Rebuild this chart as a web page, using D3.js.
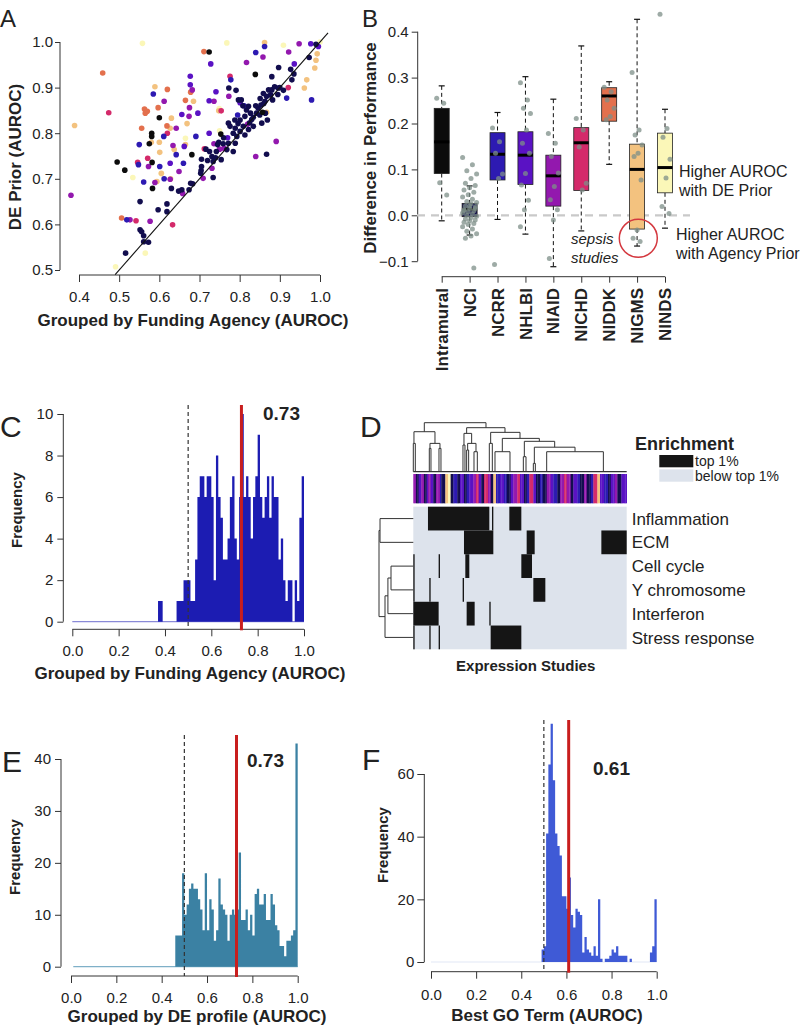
<!DOCTYPE html>
<html lang="en">
<head>
  <meta charset="UTF-8">
  <title>AUROC panels</title>
  <script src="https://d3js.org/d3.v7.min.js"></script>
  <style>
    body { margin: 0; background: #fff; }
  </style>
</head>
<body>
  <svg width="802" height="1029"></svg>
  <script>
    // ---------- data ----------
    const agencies = ["Intramural", "NCI", "NCRR", "NHLBI", "NIAID", "NICHD", "NIDDK", "NIGMS", "NINDS"];
    const agencyColors = ["#0c0c0c", "#120d4e", "#2d1ab2", "#5a12c4", "#9318ae", "#d42a6a", "#e3704d", "#f3c27f", "#fbf7b8"];

    // panel A: AUROC grouped by agency (x) vs DE prior (y)
    const aIntramural = [[0.724,0.978],[0.839,0.929],[0.6,0.834],[0.581,0.8],[0.581,0.793],[0.575,0.777],[0.582,0.736],[0.583,0.679],[0.495,0.737],[0.514,0.719],[0.681,0.753],[0.753,0.798],[0.857,0.846]];
    const aNCI = [[0.897,0.944],[0.927,0.94],[0.93,0.917],[0.973,0.966],[0.88,0.924],[0.773,0.899],[0.784,0.8],[0.789,0.811],[0.796,0.821],[0.801,0.829],[0.788,0.829],[0.809,0.815],[0.813,0.837],[0.817,0.851],[0.822,0.859],[0.827,0.844],[0.834,0.835],[0.842,0.844],[0.846,0.855],[0.851,0.876],[0.859,0.887],[0.867,0.881],[0.872,0.895],[0.877,0.884],[0.882,0.873],[0.887,0.902],[0.896,0.899],[0.909,0.894],[0.789,0.778],[0.784,0.76],[0.793,0.793],[0.801,0.804],[0.813,0.796],[0.825,0.823],[0.822,0.808],[0.834,0.815],[0.855,0.822],[0.869,0.829],[0.864,0.844],[0.853,0.862],[0.863,0.87],[0.776,0.815],[0.772,0.822],[0.797,0.873],[0.791,0.894],[0.804,0.873],[0.808,0.86],[0.867,0.754],[0.725,0.76],[0.731,0.749],[0.734,0.703],[0.74,0.746],[0.734,0.738],[0.742,0.76],[0.759,0.777],[0.772,0.778],[0.768,0.764],[0.754,0.742],[0.704,0.718],[0.703,0.712],[0.705,0.743],[0.63,0.679],[0.648,0.673],[0.656,0.676],[0.674,0.676],[0.683,0.689],[0.552,0.65],[0.552,0.588],[0.556,0.584],[0.561,0.575],[0.573,0.561],[0.561,0.562],[0.516,0.537],[0.597,0.632],[0.619,0.645],[0.619,0.628],[0.748,0.78],[0.76,0.79],[0.716,0.765],[0.72,0.74],[0.745,0.775],[0.705,0.727],[0.678,0.69],[0.84,0.86],[0.85,0.84],[0.83,0.83],[0.86,0.865],[0.88,0.895],[0.895,0.885],[0.9,0.9],[0.935,0.93],[0.99,0.995]];
    const aNCRR = [[0.862,0.99],[0.84,0.977],[0.778,0.917],[0.979,0.873],[0.917,0.877],[0.585,0.886],[0.548,0.731],[0.561,0.693],[0.601,0.727],[0.611,0.793],[0.642,0.753],[0.66,0.734],[0.612,0.7],[0.55,0.775],[0.519,0.61],[0.691,0.793],[0.811,0.86],[0.795,0.84]];
    const aNHLBI = [[0.728,0.952],[0.977,0.996],[0.996,0.99],[0.936,0.952],[0.677,0.925],[0.677,0.906],[0.656,0.841],[0.696,0.844],[0.724,0.871],[0.741,0.891],[0.627,0.734],[0.662,0.771],[0.724,0.8],[0.801,0.867],[0.77,0.79]];
    const aNIAID = [[0.922,0.978],[0.948,0.996],[0.817,0.955],[0.858,0.967],[0.682,0.895],[0.612,0.87],[0.675,0.856],[0.674,0.837],[0.736,0.87],[0.773,0.881],[0.642,0.811],[0.634,0.773],[0.649,0.716],[0.627,0.699],[0.589,0.692],[0.573,0.727],[0.658,0.668],[0.709,0.701],[0.731,0.723],[0.736,0.777],[0.761,0.767],[0.891,0.782],[0.84,0.749],[0.577,0.607],[0.527,0.61],[0.38,0.664],[0.75,0.765],[0.82,0.82]];
    const aNICHD = [[0.474,0.845],[0.754,0.849],[0.776,0.925],[0.921,0.9],[0.571,0.745],[0.546,0.736],[0.712,0.766],[0.633,0.599],[0.542,0.608],[0.62,0.8]];
    const aNIDDK = [[0.711,0.979],[0.459,0.932],[0.678,0.89],[0.62,0.896],[0.597,0.856],[0.563,0.853],[0.565,0.844],[0.665,0.872],[0.556,0.811],[0.619,0.816],[0.506,0.614],[0.57,0.848]];
    const aNIGMS = [[0.862,0.999],[0.993,0.974],[0.99,0.96],[0.987,0.943],[0.967,0.917],[0.961,0.899],[0.389,0.817],[0.589,0.902],[0.685,0.87],[0.748,0.849],[0.627,0.811],[0.63,0.833],[0.6,0.78],[0.665,0.775],[0.669,0.821],[0.601,0.758],[0.605,0.712],[0.594,0.694],[0.637,0.764],[0.867,0.846],[0.58,0.78],[0.628,0.7]];
    const aNINDS = [[0.558,0.997],[0.768,0.998],[0.909,0.993],[0.749,0.854],[0.665,0.789],[0.605,0.711],[0.534,0.703],[0.565,0.537],[0.491,0.507],[0.75,0.805],[1.0,1.0]];
    const scatterByAgency = [aIntramural, aNCI, aNCRR, aNHLBI, aNIAID, aNICHD, aNIDDK, aNIGMS, aNINDS];

    // panel B: box stats of difference in performance
    const boxLow  = [-0.012, -0.043, -0.009, -0.041, -0.112, -0.034, 0.111, -0.067, -0.028];
    const boxQ1   = [0.091, -0.003, 0.077, 0.067, 0.02, 0.054, 0.205, -0.03, 0.049];
    const boxMed  = [0.16, 0.013, 0.133, 0.131, 0.086, 0.158, 0.26, 0.1, 0.104];
    const boxQ3   = [0.233, 0.026, 0.18, 0.182, 0.131, 0.191, 0.278, 0.155, 0.179];
    const boxHigh = [0.282, 0.064, 0.224, 0.302, 0.253, 0.369, 0.291, 0.427, 0.231];
    const diffIntramural = [0.255, 0.244, 0.071, 0.044];
    const diffNCI = [0.126, 0.11, 0.097, 0.09, 0.08, 0.07, 0.065, 0.06, 0.055, 0.05, 0.045, 0.04, 0.035, 0.03, 0.028, 0.025, 0.02, 0.018, 0.015, 0.012, 0.01, 0.008, 0.005, 0.003, 0.0, -0.002, -0.005, -0.008, -0.01, -0.012, -0.015, -0.018, -0.02, -0.025, -0.03, -0.035, -0.04, -0.045, -0.05, 0.015, 0.02, 0.01, -0.115];
    const diffNCRR = [0.19, 0.16, 0.135, 0.09, 0.08, -0.107];
    const diffNHLBI = [0.289, 0.251, 0.233, 0.222, 0.186, 0.157, 0.135, 0.091, 0.066, 0.033, 0.012, -0.025];
    const diffNIAID = [0.178, 0.157, 0.128, 0.092, 0.063, 0.034, 0.012, -0.01, -0.094];
    const diffNICHD = [0.211, 0.186, 0.149, 0.07, 0.055];
    const diffNIDDK = [0.279, 0.269, 0.251, 0.233, 0.215, 0.208];
    const diffNIGMS = [0.311, 0.186, 0.175, 0.153, 0.135, 0.128, 0.077, -0.032, -0.05, -0.057];
    const diffNINDS = [0.438, 0.189, 0.17, 0.122, 0.081, 0.019, 0.004];
    const boxPoints = [diffIntramural, diffNCI, diffNCRR, diffNHLBI, diffNIAID, diffNICHD, diffNIDDK, diffNIGMS, diffNINDS];

    // histograms: counts per 0.01 bin, starting at bin index *Start
    const histCStart = 37;
    const histC = [1,1,0,0,0,0,0,0,1,1,1,2,2,2,1,1,3,6,7,7,6,7,7,6,2,8,6,5,3,3,4,6,7,4,3,6,10,6,7,6,4,6,7,9,6,5,6,7,5,7,6,6,3,4,2,1,2,2,0,2,1,5,7];
    const histEStart = 46;
    const histE = [6,6,6,18,10,12,15,16,15,15,13,11,7,18,7,13,11,5,7,17,12,11,10,5,10,11,10,11,22,9,9,11,7,10,6,14,15,12,12,14,9,9,14,12,8,7,4,4,2,5,5,6,7,43];
    const histFStart = 49;
    const histF = [4,5,41,63,76,58,41,37,34,21,21,17,27,15,11,17,16,15,3,8,4,3,2,5,2,20,1,0,1,1,2,4,3,5,2,2,2,2,0,1,0,0,0,0,0,0,0,0,3,5,20];
    const medianC = 0.73, medianE = 0.73, medianF = 0.61;

    // panel D: heatmap of enrichment
    const nStudies = 160;
    const themes = ["Inflammation", "ECM", "Cell cycle", "Y chromosome", "Interferon", "Stress response"];
    const enrichedRuns = [
      [[11,56],[59,59],[72,80]],
      [[38,59],[85,90],[141,159]],
      [[0,0],[19,19],[39,41],[81,88]],
      [[0,0],[12,12],[37,37],[90,98]],
      [[0,18],[40,45],[57,57]],
      [[0,0],[12,12],[19,19],[58,80]]
    ];
    // agency of each study column, run-length encoded
    const stripRuns = [["P",2],["N",2],["V",2],["P",2],["N",2],["V",1],["P",2],["V",2],["N",2],["P",3],["B",1],["N",3],["O",2],["Y",2],["N",2],["B",3],["N",2],["V",3],["N",2],["B",2],["V",3],["P",2],["M",2],["V",2],["N",2],["M",3],["P",2],["N",2],["O",2],["B",3],["V",3],["B",2],["N",3],["V",2],["P",3],["M",2],["V",3],["N",2],["B",2],["M",3],["V",2],["N",3],["B",2],["N",3],["P",3],["V",2],["B",3],["N",2],["P",3],["M",2],["P",3],["N",2],["V",3],["B",2],["N",3],["P",2],["N",3],["B",2],["M",3],["O",2],["V",3],["B",3],["N",2],["V",3],["P",2],["N",3],["V",4]];
    const stripCode = {K: 0, N: 1, B: 2, V: 3, P: 4, M: 5, S: 6, O: 7, Y: 8};
    // top dendrogram merges: [left col, right col, height, left child height, right child height]
    const colMerges = [
      [8.25,54.5,1.0,0.816,0.898],[0.5,16.25,0.816,0.578,0.578],[0,1.5,0.578,0,0],[12.5,20,0.578,0.476,0.476],
      [12,13.25,0.476,0,0],[19.25,20.75,0.476,0,0],[40,68.75,0.898,0.782,0.803],[38,43.75,0.782,0.544,0.578],
      [37.25,38.75,0.544,0,0],[40.75,47,0.578,0.442,0.408],[40,41.5,0.442,0,0],[45.5,48,0.408,0,0],
      [58,80,0.803,0.578,0.68],[57,59.25,0.578,0,0],[66.75,94.5,0.68,0.408,0.62],[61.25,72.5,0.408,0,0],
      [83.25,106,0.62,0.306,0.5],[82.5,84.5,0.306,0,0],[90.75,121.25,0.5,0.17,0.408],[90,91.5,0.17,0,0],
      [100,142.5,0.408,0,0]
    ];
    // row dendrogram merges: [row a, row b, height, height a, height b]
    const rowMerges = [[2,3,0.65,0,0],[2.5,4,0.74,0.65,0],[3.25,5,0.825,0.74,0],[0,1,0.97,0,0],[0.5,4.125,1.0,0.97,0.825]];

    // ---------- drawing ----------
    const font = "'Liberation Sans', Arial, Helvetica, sans-serif";
    const ink = "#222";
    const svg = d3.select("svg").attr("font-family", font);

    function txt(x, y, s, size, opts = {}) {
      const t = svg.append("text").attr("x", x).attr("y", y).text(s)
        .attr("font-size", size).attr("fill", opts.fill || ink)
        .attr("text-anchor", opts.anchor || "start");
      if (opts.bold) t.attr("font-weight", "bold");
      if (opts.italic) t.attr("font-style", "italic");
      return t;
    }
    function vtxt(x, y, s, size) {
      svg.append("text").attr("transform", `translate(${x},${y}) rotate(-90)`)
        .attr("text-anchor", "middle").attr("dy", "0.35em")
        .attr("font-size", size).attr("font-weight", "bold").attr("fill", ink).text(s);
    }
    function styleAxis(g) {
      g.attr("font-size", 15).attr("font-family", font);
      g.select(".domain").remove();
      g.selectAll(".tick line").attr("stroke", "#333");
      g.selectAll(".tick text").attr("fill", ink);
    }
    function yAxis(scale, x, ticks, fmt, tick, pad) {
      const g = svg.append("g").attr("transform", `translate(${x},0)`)
        .call(d3.axisLeft(scale).tickValues(ticks).tickFormat(fmt).tickSize(tick).tickPadding(pad));
      styleAxis(g);
      g.append("line").attr("y1", scale(ticks[0])).attr("y2", scale(ticks[ticks.length - 1])).attr("stroke", "#333");
    }
    function xAxis(scale, y, ticks, fmt, tick, pad) {
      const g = svg.append("g").attr("transform", `translate(0,${y})`)
        .call(d3.axisBottom(scale).tickValues(ticks).tickFormat(fmt).tickSize(tick).tickPadding(pad));
      styleAxis(g);
      g.append("line").attr("x1", scale(ticks[0])).attr("x2", scale(ticks[ticks.length - 1])).attr("stroke", "#333");
      return g;
    }
    const f1 = d3.format(".1f");

    // ----- A -----
    const xA = d3.scaleLinear([0.4, 1.0], [79, 320]);
    const yA = d3.scaleLinear([0.5, 1.0], [270, 42]);
    txt(0, 27, "A", 24);
    yAxis(yA, 60, [0.5, 0.6, 0.7, 0.8, 0.9, 1.0], f1, 5, 2);
    xAxis(xA, 275, [0.4, 0.5, 0.6, 0.7, 0.8, 0.9, 1.0], f1, 7, 9);
    const drawOrder = [8, 7, 6, 5, 4, 3, 2, 1, 0];
    drawOrder.forEach(ai => {
      svg.append("g").selectAll("circle").data(scatterByAgency[ai]).join("circle")
        .attr("cx", d => xA(d[0])).attr("cy", d => yA(d[1])).attr("r", 2.8)
        .attr("fill", agencyColors[ai]);
    });
    svg.append("line").attr("x1", xA(0.49)).attr("y1", yA(0.49)).attr("x2", xA(1.02)).attr("y2", yA(1.02))
      .attr("stroke", "#111").attr("stroke-width", 1.1);
    vtxt(15, 157, "DE Prior (AUROC)", 17);
    txt(193, 326, "Grouped by Funding Agency (AUROC)", 17, {bold: true, anchor: "middle"});

    // ----- B -----
    const xB = d3.scalePoint(agencies, [441.7, 665]);
    const yB = d3.scaleLinear([-0.1, 0.4], [261.2, 31.7]);
    txt(362, 27, "B", 24);
    yAxis(yB, 417.7, [-0.1, 0.0, 0.1, 0.2, 0.3, 0.4], f1, 6, 3);
    const gxB = svg.append("g").attr("transform", "translate(0,276.7)")
      .call(d3.axisBottom(xB).tickSize(6).tickFormat(""));
    gxB.select(".domain").remove();
    gxB.selectAll(".tick line").attr("stroke", "#333");
    gxB.append("line").attr("x1", xB(agencies[0])).attr("x2", xB(agencies[8])).attr("stroke", "#333");
    agencies.forEach(a => {
      svg.append("text").attr("transform", `translate(${xB(a)},288) rotate(-90)`)
        .attr("text-anchor", "end").attr("dy", "0.36em").attr("font-size", 17)
        .attr("font-weight", "bold").attr("fill", ink).text(a);
    });
    vtxt(370, 148, "Difference in Performance", 17);
    svg.append("line").attr("x1", 417).attr("x2", 690).attr("y1", yB(0)).attr("y2", yB(0))
      .attr("stroke", "#c9c9c9").attr("stroke-width", 2.2).attr("stroke-dasharray", "8,6");
    const bw = 15;
    agencies.forEach((a, i) => {
      const cx = xB(a);
      const g = svg.append("g");
      g.append("line").attr("x1", cx).attr("x2", cx).attr("y1", yB(boxHigh[i])).attr("y2", yB(boxQ3[i]))
        .attr("stroke", "#111").attr("stroke-dasharray", "4,3");
      g.append("line").attr("x1", cx).attr("x2", cx).attr("y1", yB(boxQ1[i])).attr("y2", yB(boxLow[i]))
        .attr("stroke", "#111").attr("stroke-dasharray", "4,3");
      [boxHigh[i], boxLow[i]].forEach(v => {
        g.append("line").attr("x1", cx - 3).attr("x2", cx + 3).attr("y1", yB(v)).attr("y2", yB(v))
          .attr("stroke", "#111").attr("stroke-width", 1.2);
      });
      g.append("rect").attr("x", cx - bw / 2).attr("width", bw)
        .attr("y", yB(boxQ3[i])).attr("height", yB(boxQ1[i]) - yB(boxQ3[i]))
        .attr("fill", agencyColors[i]).attr("stroke", "#222").attr("stroke-width", 0.8);
      g.append("line").attr("x1", cx - bw / 2).attr("x2", cx + bw / 2).attr("y1", yB(boxMed[i])).attr("y2", yB(boxMed[i]))
        .attr("stroke", "#000").attr("stroke-width", 3);
      const spread = i === 1 ? 1.4 : 1.0;
      g.selectAll("circle").data(boxPoints[i]).join("circle")
        .attr("cx", (d, j) => cx + ((j * 7) % 11 - 5) * spread)
        .attr("cy", d => yB(d)).attr("r", 2.5)
        .attr("fill", "#7d8f88").attr("fill-opacity", 0.75);
    });
    txt(679, 177, "Higher AUROC", 16);
    txt(679, 196, "with DE Prior", 16);
    txt(676, 240, "Higher AUROC", 16);
    txt(676, 259, "with Agency Prior", 16);
    txt(571, 244, "sepsis", 15, {italic: true});
    txt(571, 263, "studies", 15, {italic: true});
    svg.append("circle").attr("cx", 638.3).attr("cy", 238.3).attr("r", 19)
      .attr("fill", "none").attr("stroke", "#d4383f").attr("stroke-width", 1.5);

    // ----- histograms -----
    function histogram(cfg) {
      const {xs, ys, counts, start, fill, base, baseFrom, yTicks, axX, axY, xTick, xPad, yTick, yPad, top, median, label, lx, ly} = cfg;
      yAxis(ys, axY, yTicks, d3.format("d"), yTick, yPad);
      xAxis(xs, axX, [0, 0.2, 0.4, 0.6, 0.8, 1.0], f1, xTick, xPad);
      svg.append("line").attr("x1", xs(baseFrom)).attr("x2", xs(1)).attr("y1", ys(0)).attr("y2", ys(0))
        .attr("stroke", base).attr("stroke-width", 1.2);
      // one step outline per histogram so neighbouring bars leave no seams
      const steps = counts.map((c, k) => ({x: (start + k) / 100, c}));
      steps.push({x: (start + counts.length) / 100, c: 0});
      const area = d3.area().curve(d3.curveStepAfter)
        .x(d => xs(d.x)).y0(ys(0)).y1(d => ys(d.c));
      svg.append("path").datum(steps).attr("d", area).attr("fill", fill);
      svg.append("line").attr("x1", xs(0.5)).attr("x2", xs(0.5)).attr("y1", top).attr("y2", axX)
        .attr("stroke", "#333").attr("stroke-width", 1.2).attr("stroke-dasharray", "4,3");
      svg.append("line").attr("x1", xs(median)).attr("x2", xs(median)).attr("y1", top).attr("y2", axX + 1)
        .attr("stroke", "#c81e1e").attr("stroke-width", 3);
      txt(lx, ly, label, 19, {bold: true});
    }

    // C
    txt(0, 437, "C", 30);
    histogram({
      xs: d3.scaleLinear([0, 1], [72.3, 304]), ys: d3.scaleLinear([0, 10], [621.7, 414]),
      counts: histC, start: histCStart, fill: "#1c1cb2", base: "#8a8ad8", baseFrom: 0,
      yTicks: [0, 2, 4, 6, 8, 10], axX: 629.3, axY: 63.3, xTick: 7, xPad: 9, yTick: 6, yPad: 4,
      top: 405, median: medianC, label: d3.format(".2f")(medianC), lx: 263, ly: 420
    });
    vtxt(17, 510, "Frequency", 15);
    txt(190, 679, "Grouped by Funding Agency (AUROC)", 17, {bold: true, anchor: "middle"});

    // E
    txt(2, 772, "E", 30);
    histogram({
      xs: d3.scaleLinear([0, 1], [71, 297.7]), ys: d3.scaleLinear([0, 40], [966.7, 759]),
      counts: histE, start: histEStart, fill: "#3b81a3", base: "#7fb0c8", baseFrom: 0.01,
      yTicks: [0, 10, 20, 30, 40], axX: 976, axY: 61, xTick: 7, xPad: 9, yTick: 6, yPad: 4,
      top: 735, median: medianE, label: d3.format(".2f")(medianE), lx: 247, ly: 767
    });
    vtxt(15, 857, "Frequency", 15);
    txt(197, 1022, "Grouped by DE profile (AUROC)", 17, {bold: true, anchor: "middle"});

    // F
    txt(362, 770, "F", 30);
    histogram({
      xs: d3.scaleLinear([0, 1], [431, 656.7]), ys: d3.scaleLinear([0, 60], [962, 774]),
      counts: histF, start: histFStart, fill: "#3f5ad6", base: "#e2e7f5", baseFrom: 0,
      yTicks: [0, 20, 40, 60], axX: 971.7, axY: 424.3, xTick: 7, xPad: 11, yTick: 7, yPad: 3,
      top: 720, median: medianF, label: d3.format(".2f")(medianF), lx: 593, ly: 775
    });
    vtxt(383, 845, "Frequency", 15);
    txt(547, 1021, "Best GO Term (AUROC)", 17, {bold: true, anchor: "middle"});

    // ----- D -----
    txt(360, 437, "D", 30);
    const xD = d3.scaleLinear([0, nStudies], [413.3, 626.7]);
    const yRow = d3.scaleBand(themes, [506.7, 649.3]);
    const yTop = d3.scaleLinear([0, 1], [471.7, 422.7]);
    const rowC = d3.scaleLinear([0, 5], [yRow(themes[0]) + yRow.bandwidth() / 2, yRow(themes[5]) + yRow.bandwidth() / 2]);
    const xLeft = d3.scaleLinear([0, 1], [413.3, 379]);

    const stripCols = stripRuns.flatMap(([c, n]) => Array(n).fill(stripCode[c]));
    svg.append("g").selectAll("rect").data(stripCols).join("rect")
      .attr("x", (d, i) => xD(i)).attr("width", xD(1) - xD(0) + 0.3)
      .attr("y", 474).attr("height", 29.3).attr("fill", d => agencyColors[d]);

    svg.append("rect").attr("x", xD(0)).attr("y", yRow(themes[0]))
      .attr("width", xD(nStudies) - xD(0)).attr("height", yRow.bandwidth() * themes.length)
      .attr("fill", "#dde3ec");
    enrichedRuns.forEach((runs, r) => {
      svg.append("g").selectAll("rect").data(runs).join("rect")
        .attr("x", d => xD(d[0])).attr("width", d => xD(d[1] + 1) - xD(d[0]))
        .attr("y", yRow(themes[r])).attr("height", yRow.bandwidth())
        .attr("fill", "#151515");
    });
    themes.forEach(t => {
      txt(631.7, yRow(t) + yRow.bandwidth() / 2, t, 17).attr("dy", "0.36em");
    });

    svg.append("g").selectAll("path").data(colMerges).join("path")
      .attr("d", d => `M${xD(d[0])},${yTop(d[3])}V${yTop(d[2])}H${xD(d[1])}V${yTop(d[4])}`)
      .attr("fill", "none").attr("stroke", "#333").attr("stroke-width", 1);
    svg.append("line").attr("x1", xD(0)).attr("x2", xD(nStudies)).attr("y1", yTop(0)).attr("y2", yTop(0))
      .attr("stroke", "#333").attr("stroke-width", 1.2);
    svg.append("g").selectAll("path").data(rowMerges).join("path")
      .attr("d", d => `M${xLeft(d[3])},${rowC(d[0])}H${xLeft(d[2])}V${rowC(d[1])}H${xLeft(d[4])}`)
      .attr("fill", "none").attr("stroke", "#333").attr("stroke-width", 1);

    txt(525.7, 670.5, "Expression Studies", 15, {bold: true, anchor: "middle"});
    txt(635, 450, "Enrichment", 18, {bold: true});
    svg.append("rect").attr("x", 659.3).attr("y", 455).attr("width", 34).attr("height", 12.3).attr("fill", "#151515");
    svg.append("rect").attr("x", 659.3).attr("y", 469.3).attr("width", 34).attr("height", 12.4).attr("fill", "#dde3ec");
    txt(695, 465.5, "top 1%", 14);
    txt(695, 481, "below top 1%", 14);
  </script>
</body>
</html>
